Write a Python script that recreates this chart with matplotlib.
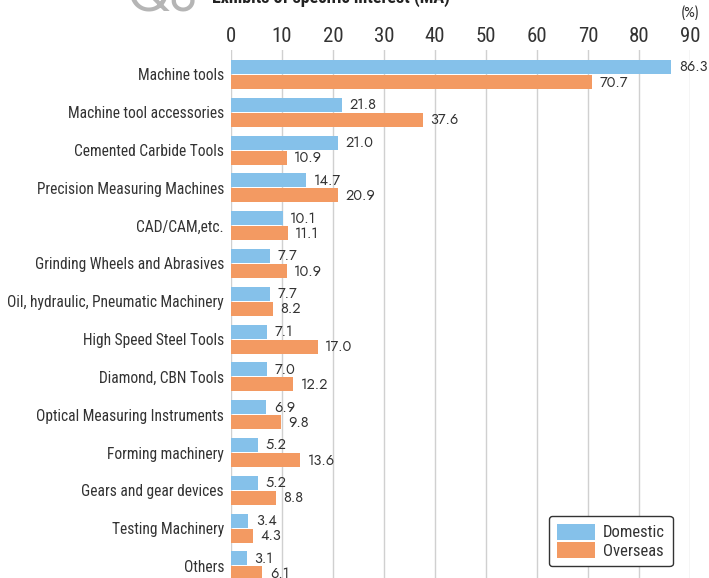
import numpy as np
import matplotlib
matplotlib.use('Agg')
import matplotlib.pyplot as plt

# Data
categories = ['Machine tools', 'Machine tool accessories', 'Cemented Carbide Tools',
              'Precision Measuring Machines', 'CAD/CAM,etc.', 'Grinding Wheels and Abrasives',
              'Oil, hydraulic, Pneumatic Machinery', 'High Speed Steel Tools',
              'Diamond, CBN Tools', 'Optical Measuring Instruments', 'Forming machinery',
              'Gears and gear devices', 'Testing Machinery', 'Others']
domestic = [86.3, 21.8, 21.0, 14.7, 10.1, 7.7, 7.7, 7.1, 7.0, 6.9, 5.2, 5.2, 3.4, 3.1]
overseas = [70.7, 37.6, 10.9, 20.9, 11.1, 10.9, 8.2, 17.0, 12.2, 9.8, 13.6, 8.8, 4.3, 6.1]
xticks = list(range(0, 100, 10))

BLUE = '#85c1ea'
ORANGE = '#f39a62'
TXT = '#333333'
COND = ['Roboto Condensed', 'DejaVu Sans']
ROUND = ['Jost', 'DejaVu Sans']

W, H = 709, 578
fig = plt.figure(figsize=(W / 100, H / 100), dpi=100)
ax = fig.add_axes([231 / W, 0.0, (690 - 231) / W, 1 - 50 / H])

y = np.arange(len(categories))
off = 0.2
bh = 0.37
ax.barh(y - off, domestic, height=bh, color=BLUE, label='Domestic', zorder=3)
ax.barh(y + off, overseas, height=bh, color=ORANGE, label='Overseas', zorder=3)

for i in range(len(categories)):
    ax.text(domestic[i] + 1.5, y[i] - off, f'{domestic[i]:.1f}', va='center', ha='left',
            fontsize=10.5, color=TXT, family=ROUND)
    ax.text(overseas[i] + 1.5, y[i] + off, f'{overseas[i]:.1f}', va='center', ha='left',
            fontsize=10.5, color=TXT, family=ROUND)

ax.set_xlim(0, 90)
ax.set_ylim(13.32, -0.648)
ax.xaxis.tick_top()
ax.set_xticks(xticks)
ax.set_xticklabels([str(t) for t in xticks], family=COND, fontsize=15, color=TXT)
ax.set_yticks(y)
ax.set_yticklabels(categories, family=COND, fontsize=11.2, color=TXT)
ax.tick_params(axis='both', length=0)
ax.tick_params(axis='x', pad=3)
ax.tick_params(axis='y', pad=5)
ax.grid(axis='x', color='#d0d0d0', linewidth=1, zorder=0)
for s in ax.spines.values():
    s.set_visible(False)

fig.text(690 / W, 1 - 13 / H, '(%)', ha='center', va='center', fontsize=10,
         color=TXT, family=ROUND)

# cut-off heading at the top
fig.text(128 / W, 1 - 11 / H, 'Q8', fontsize=38, fontweight='bold', color='#b5b5b5',
         va='baseline', ha='left', family=ROUND)
fig.text(212 / W, 1 - 3 / H, 'Exhibits of specific interest (MA)', fontsize=13,
         fontweight='bold', color='#222222', va='baseline', ha='left', family=COND)

leg = ax.legend(loc='upper left', bbox_to_anchor=(549 / W, 1 - 516 / H),
                bbox_transform=fig.transFigure, prop={'family': COND, 'size': 12},
                handlelength=2.3, handleheight=1.1, handletextpad=0.5,
                labelspacing=0.1, borderpad=0.45, borderaxespad=0, fancybox=True,
                framealpha=1, edgecolor='#333333')
for t in leg.get_texts():
    t.set_color(TXT)
leg.get_frame().set_linewidth(1.0)

fig.savefig('out.png', dpi=100)
